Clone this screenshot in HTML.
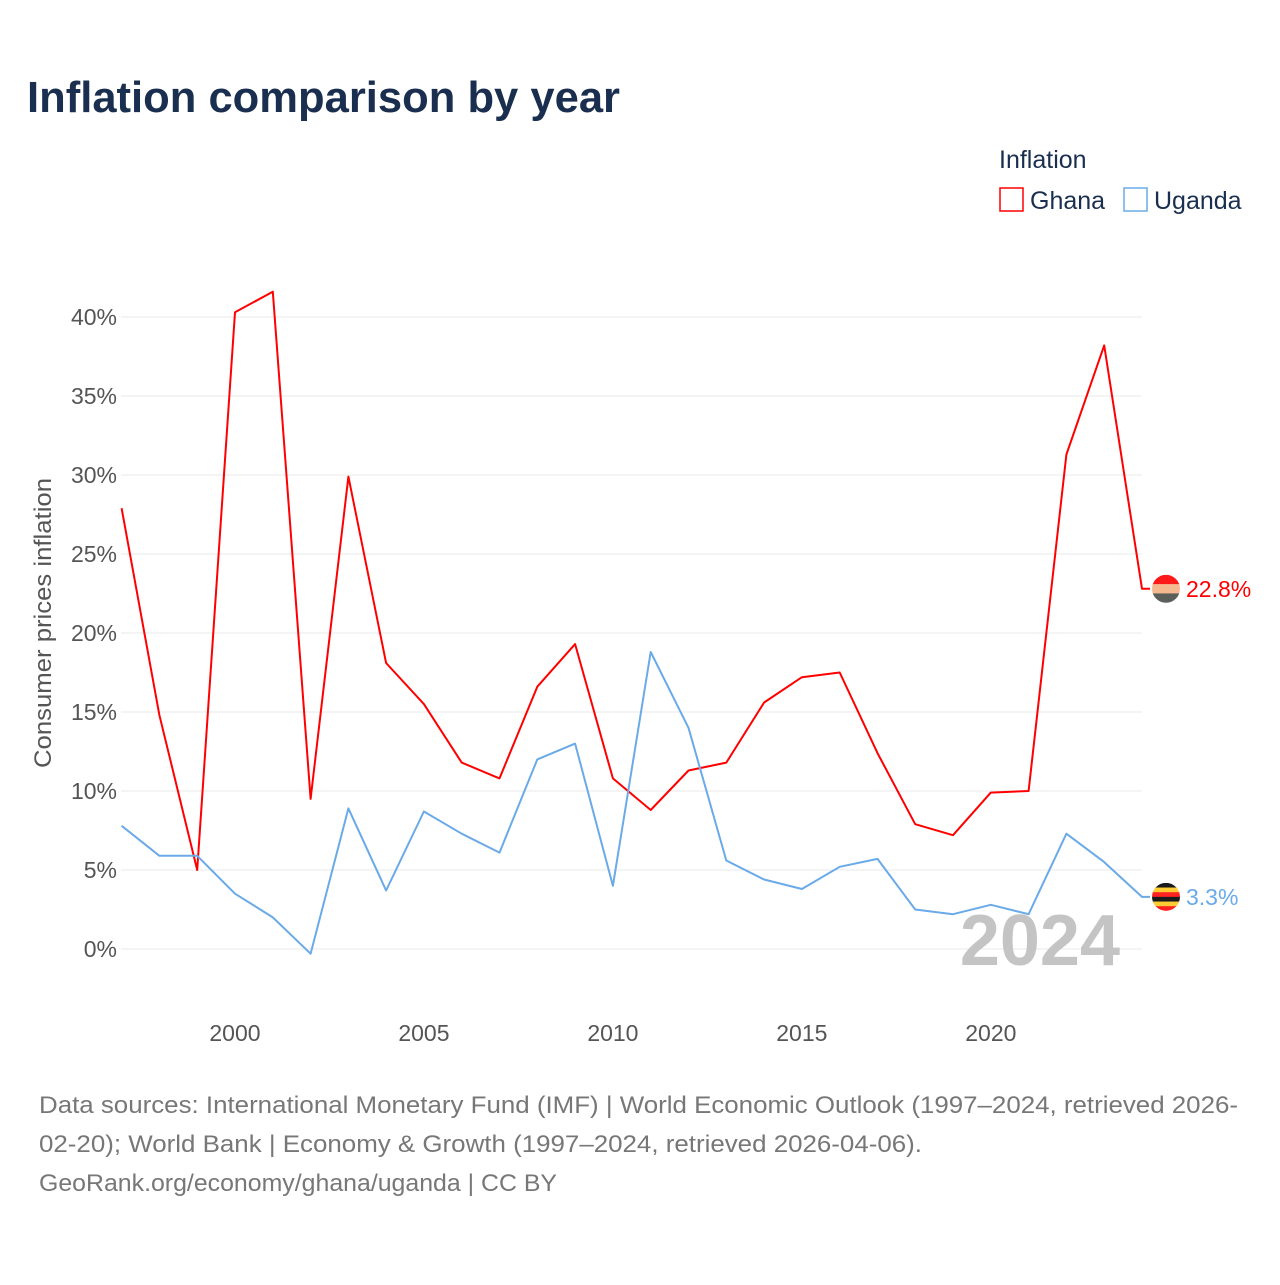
<!DOCTYPE html>
<html><head><meta charset="utf-8"><style>
body{margin:0;background:#fff;font-family:"Liberation Sans",sans-serif}
</style></head><body>
<svg width="1280" height="1280" xmlns="http://www.w3.org/2000/svg" font-family="Liberation Sans, sans-serif">
<rect width="1280" height="1280" fill="#fff"/>
<text x="27" y="112" font-size="44" font-weight="bold" fill="#1a2e4f" textLength="593" lengthAdjust="spacingAndGlyphs">Inflation comparison by year</text>
<text x="999" y="168" font-size="25" fill="#1a2e4f">Inflation</text>
<g><rect x="1000" y="188" width="23" height="23" fill="none" stroke="#ff0000" stroke-width="1.5"/><text x="1030" y="209" font-size="25" fill="#1a2e4f">Ghana</text></g>
<g><rect x="1124" y="188" width="23" height="23" fill="none" stroke="#6aaae8" stroke-width="1.5"/><text x="1154" y="209" font-size="25" fill="#1a2e4f">Uganda</text></g>
<g id="grid"></g>
<g id="yticks"></g>
<g id="xticks"></g>
<text transform="translate(51,623) rotate(-90)" text-anchor="middle" font-size="24" fill="#555" textLength="290" lengthAdjust="spacingAndGlyphs">Consumer prices inflation</text>
<text x="1120" y="965" text-anchor="end" font-size="72" font-weight="bold" fill="#c4c4c4">2024</text>
<g id="series"></g>
<g font-size="24" fill="#777">
<text x="39" y="1113" textLength="1199" lengthAdjust="spacingAndGlyphs">Data sources: International Monetary Fund (IMF) | World Economic Outlook (1997–2024, retrieved 2026-</text>
<text x="39" y="1152" textLength="883" lengthAdjust="spacingAndGlyphs">02-20); World Bank | Economy &amp; Growth (1997–2024, retrieved 2026-04-06).</text>
<text x="39" y="1191" textLength="518" lengthAdjust="spacingAndGlyphs">GeoRank.org/economy/ghana/uganda | CC BY</text>
</g>
</svg>
<script>
const years=[1997,1998,1999,2000,2001,2002,2003,2004,2005,2006,2007,2008,2009,2010,2011,2012,2013,2014,2015,2016,2017,2018,2019,2020,2021,2022,2023,2024];
const ghana=[27.9,14.8,5.0,40.3,41.6,9.5,29.9,18.1,15.5,11.8,10.8,16.6,19.3,10.8,8.8,11.3,11.8,15.6,17.2,17.5,12.4,7.9,7.2,9.9,10.0,31.3,38.2,22.8];
const uganda=[7.8,5.9,5.9,3.5,2.0,-0.3,8.9,3.7,8.7,7.3,6.1,12.0,13.0,4.0,18.8,14.0,5.6,4.4,3.8,5.2,5.7,2.5,2.2,2.8,2.2,7.3,5.5,3.3];
const yTicks=[0,5,10,15,20,25,30,35,40];
const xTicks=[2000,2005,2010,2015,2020];
const NS="http://www.w3.org/2000/svg";
const X=y=>121.6+(y-1997)*(1142-121.6)/27;
const Y=v=>949-v*15.8;
function mk(t,a,p){const e=document.createElementNS(NS,t);for(const k in a)e.setAttribute(k,a[k]);p.appendChild(e);return e;}
const grid=document.getElementById('grid'),yt=document.getElementById('yticks'),xt=document.getElementById('xticks'),se=document.getElementById('series');
yTicks.forEach(v=>{
 const l=mk('line',{x1:121,x2:1142,y1:Y(v),y2:Y(v),stroke:'#e8e8e8','stroke-width':1},grid);
 
 
 const t=mk('text',{x:117,y:Y(v)+8,'text-anchor':'end','font-size':23,fill:'#555'},yt);
 t.textContent=v+'%';
 
 
});
xTicks.forEach(v=>{
 const t=mk('text',{x:X(v),y:1041,'text-anchor':'middle','font-size':23,fill:'#555'},xt);
 t.textContent=v;
 
 
});
function line(data,color,name){
 let d=data.map((v,i)=>(i?'L':'M')+X(years[i]).toFixed(1)+','+Y(v).toFixed(1)).join(' ');
 d+=' L'+(X(years[years.length-1])+8)+','+Y(data[data.length-1]).toFixed(1);
 const p=mk('path',{d:d,fill:'none',stroke:color,'stroke-width':2,'stroke-linejoin':'round'},se);
 
 
}
line(ghana,'#ff0000','ghana');
line(uganda,'#6aaae8','uganda');
function endLabel(v,color,name,stripes){
 const g=mk('g',{},se);
 
 
 const cy=Y(v),cx=1166;
 const id='c'+name;
 const cp=mk('clipPath',{id:id},g);mk('circle',{cx:cx,cy:cy,r:14},cp);
 const h=28/stripes.length;
 stripes.forEach((c,i)=>mk('rect',{x:cx-14,y:cy-14+i*h,width:28,height:h+0.5,fill:c,'clip-path':'url(#'+id+')'},g));
 const t=mk('text',{x:1186,y:cy+8,'font-size':23,fill:color},g);
 t.textContent=v+'%';
}
endLabel(ghana[ghana.length-1],'#ff0000','ghana',['#ff1a1a','#f5b98f','#5a5f5a']);
endLabel(uganda[uganda.length-1],'#6aaae8','uganda',['#1a1a1a','#ffcc33','#ff2222','#1a1a1a','#ffcc33','#ff2222']);
</script>
</body></html>
